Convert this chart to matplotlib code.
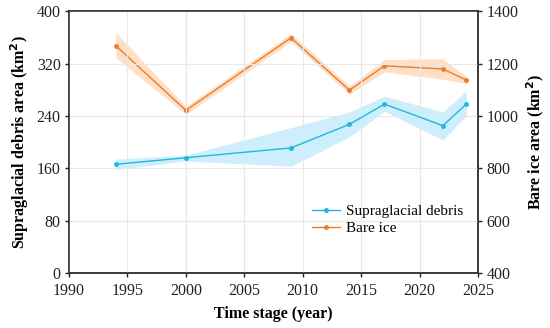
import matplotlib.pyplot as plt

plt.rcParams['font.family'] = ['Liberation Serif', 'DejaVu Serif']

# Data
years = [1994, 2000, 2009, 2014, 2017, 2022, 2024]

debris = [166, 176, 191, 227, 258, 225, 258]
debris_hi = [174, 180, 222, 246, 270, 246, 278]
debris_lo = [158, 171, 163, 208, 247, 203, 240]

ice = [1268, 1021, 1298, 1098, 1191, 1179, 1137]
ice_hi = [1318, 1036, 1314, 1114, 1215, 1218, 1150]
ice_lo = [1222, 1006, 1284, 1083, 1168, 1140, 1124]

c_debris = '#1fb8dc'
c_debris_band = '#cfeefb'
c_ice = '#f07b2a'
c_ice_band = '#fde0c6'

fig = plt.figure(figsize=(5.5, 3.28), dpi=100)
ax = fig.add_axes([0.1255, 0.168, 0.7435, 0.798])
ax2 = ax.twinx()

ax.set_zorder(ax2.get_zorder() + 1)
ax.patch.set_visible(False)

# bare ice on right axis
ax2.fill_between(years, ice_lo, ice_hi, color=c_ice_band, lw=0)
ax2.plot(years, ice, color=c_ice, lw=1, marker='o', ms=2.5)
ax2.set_ylim(400, 1400)
ax2.set_yticks([400, 600, 800, 1000, 1200, 1400])

# supraglacial debris on left axis
ax.fill_between(years, debris_lo, debris_hi, color=c_debris_band, lw=0)
ax.plot(years, debris, color=c_debris, lw=1, marker='o', ms=2.5)
ax.set_ylim(0, 400)
ax.set_yticks([0, 80, 160, 240, 320, 400])
ax.set_xlim(1990, 2025)
ax.set_xticks(range(1990, 2026, 5))

ax2.grid(False)
ax.grid(True, color='#e8e8e8', lw=0.8, zorder=0)
ax.set_axisbelow(True)

for a in (ax, ax2):
    a.tick_params(labelsize=11.5, length=3, width=1, direction='out', colors='#222222', pad=3)
    for s in a.spines.values():
        s.set_color('#333333')
        s.set_linewidth(1.1)
ax.tick_params(axis='x', pad=4.5)

ax.set_xlabel('Time stage (year)', fontsize=11.5, fontweight='bold', labelpad=5)
ax.set_ylabel('Supraglacial debris area (km$\\mathbf{^2}$)', fontsize=11.5, fontweight='bold')
ax2.set_ylabel('Bare ice area (km$\\mathbf{^2}$)', fontsize=11.5, fontweight='bold')

h1 = plt.Line2D([], [], color=c_debris, lw=1, marker='o', ms=2.5, label='Supraglacial debris')
h2 = plt.Line2D([], [], color=c_ice, lw=1, marker='o', ms=2.5, label='Bare ice')
ax.legend(handles=[h1, h2], loc='upper left', bbox_to_anchor=(0.58, 0.285),
          frameon=False, fontsize=11, handlelength=1.8, handletextpad=0.4,
          labelspacing=0.2, borderaxespad=0)

fig.savefig('out.png', dpi=100)
